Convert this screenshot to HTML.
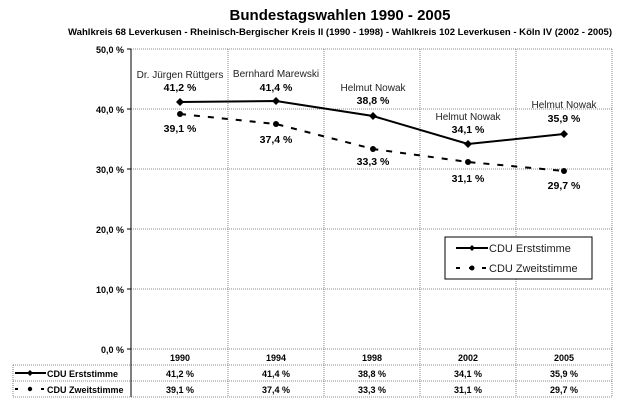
<!DOCTYPE html>
<html><head><meta charset="utf-8"><style>
body{margin:0;background:#fff;}
svg text{font-family:"Liberation Sans",Arial,sans-serif;}
</style></head><body>
<svg width="627" height="410" xmlns="http://www.w3.org/2000/svg">
<rect width="627" height="410" fill="#fff"/>
<text x="340" y="20" font-size="15" font-weight="bold" text-anchor="middle">Bundestagswahlen 1990 - 2005</text>
<text x="340" y="35" font-size="9.5" font-weight="bold" text-anchor="middle" textLength="544" lengthAdjust="spacingAndGlyphs">Wahlkreis 68 Leverkusen - Rheinisch-Bergischer Kreis II (1990 - 1998) - Wahlkreis 102 Leverkusen - Köln IV (2002 - 2005)</text>
<g stroke="#888" stroke-width="1" stroke-dasharray="1,1" fill="none">
<line x1="131" y1="49" x2="612" y2="49"/>
<line x1="131" y1="109" x2="612" y2="109"/>
<line x1="131" y1="169" x2="612" y2="169"/>
<line x1="131" y1="229" x2="612" y2="229"/>
<line x1="131" y1="289" x2="612" y2="289"/>
<line x1="228" y1="49" x2="228" y2="397"/>
<line x1="324" y1="49" x2="324" y2="397"/>
<line x1="420" y1="49" x2="420" y2="397"/>
<line x1="516" y1="49" x2="516" y2="397"/>
<line x1="612" y1="49" x2="612" y2="397"/>
<line x1="13" y1="365" x2="612" y2="365"/>
<line x1="13" y1="381" x2="612" y2="381"/>
<line x1="13" y1="397" x2="612" y2="397"/>
<line x1="13" y1="365" x2="13" y2="397"/>
<line x1="131" y1="349" x2="612" y2="349"/>
</g>
<line x1="131" y1="49" x2="131" y2="397" stroke="#000"/>
<g stroke="#000"><line x1="127" y1="49" x2="131" y2="49"/><line x1="127" y1="109" x2="131" y2="109"/><line x1="127" y1="169" x2="131" y2="169"/><line x1="127" y1="229" x2="131" y2="229"/><line x1="127" y1="289" x2="131" y2="289"/><line x1="127" y1="349" x2="131" y2="349"/></g>
<g font-size="9" font-weight="bold" text-anchor="end">
<text x="124" y="53">50,0 %</text><text x="124" y="113">40,0 %</text><text x="124" y="173">30,0 %</text><text x="124" y="233">20,0 %</text><text x="124" y="293">10,0 %</text><text x="124" y="353">0,0 %</text>
</g>
<polyline points="180,102 276,101 373,116 468,144 564,134" fill="none" stroke="#000" stroke-width="2"/>
<polyline points="180,114 276,124 373,149 468,162 564,171" fill="none" stroke="#000" stroke-width="2" stroke-dasharray="6,8"/>
<g fill="#000">
<path d="M180,98 l4,4 -4,4 -4,-4z"/><path d="M276,97 l4,4 -4,4 -4,-4z"/><path d="M373,112 l4,4 -4,4 -4,-4z"/><path d="M468,140 l4,4 -4,4 -4,-4z"/><path d="M564,130 l4,4 -4,4 -4,-4z"/>
<circle cx="180" cy="114" r="3"/><circle cx="276" cy="124" r="3"/><circle cx="373" cy="149" r="3"/><circle cx="468" cy="162" r="3"/><circle cx="564" cy="171" r="3"/>
</g>
<g font-size="10" text-anchor="middle" fill="#222">
<text x="180" y="78">Dr. Jürgen Rüttgers</text><text x="276" y="77">Bernhard Marewski</text><text x="373" y="91">Helmut Nowak</text><text x="468" y="120">Helmut Nowak</text><text x="564" y="108">Helmut Nowak</text>
</g>
<g font-size="10.5" font-weight="bold" text-anchor="middle">
<text x="180" y="91">41,2 %</text><text x="276" y="91">41,4 %</text><text x="373" y="104">38,8 %</text><text x="468" y="133">34,1 %</text><text x="564" y="122">35,9 %</text>
<text x="180" y="132">39,1 %</text><text x="276" y="143">37,4 %</text><text x="373" y="165">33,3 %</text><text x="468" y="182">31,1 %</text><text x="564" y="189">29,7 %</text>
</g>
<rect x="445" y="237" width="147" height="42" fill="#fff" stroke="#000"/>
<line x1="456" y1="248" x2="488" y2="248" stroke="#000" stroke-width="2"/><path d="M472,245 l3,3 -3,3 -3,-3z"/>
<line x1="456" y1="268" x2="488" y2="268" stroke="#000" stroke-width="2" stroke-dasharray="4,9"/><circle cx="472" cy="268" r="2.5"/>
<g font-size="11" fill="#222"><text x="489" y="252">CDU Erststimme</text><text x="489" y="272">CDU Zweitstimme</text></g>
<g font-size="9" font-weight="bold" text-anchor="middle">
<text x="180" y="361">1990</text><text x="276" y="361">1994</text><text x="372" y="361">1998</text><text x="468" y="361">2002</text><text x="564" y="361">2005</text>
<text x="180" y="377">41,2 %</text><text x="276" y="377">41,4 %</text><text x="372" y="377">38,8 %</text><text x="468" y="377">34,1 %</text><text x="564" y="377">35,9 %</text>
<text x="180" y="393">39,1 %</text><text x="276" y="393">37,4 %</text><text x="372" y="393">33,3 %</text><text x="468" y="393">31,1 %</text><text x="564" y="393">29,7 %</text>
</g>
<line x1="15" y1="373" x2="46" y2="373" stroke="#000" stroke-width="2"/><path d="M30,370 l3,3 -3,3 -3,-3z"/>
<line x1="15" y1="389" x2="46" y2="389" stroke="#000" stroke-width="2" stroke-dasharray="3,10"/><circle cx="30" cy="389" r="2.2"/>
<g font-size="9" font-weight="bold"><text x="47" y="377">CDU Erststimme</text><text x="47" y="393">CDU Zweitstimme</text></g>
</svg>
</body></html>
